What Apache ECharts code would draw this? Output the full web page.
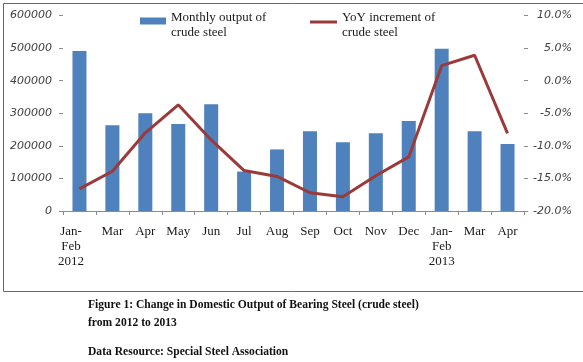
<!DOCTYPE html>
<html>
<head>
<meta charset="utf-8">
<script src="https://cdn.jsdelivr.net/npm/echarts@6/dist/echarts.min.js"></script>
<style>
html,body{margin:0;padding:0;background:#fff;}
#c{width:583px;height:362px;}
</style>
</head>
<body>
<div id="c"></div>
<script>
var categories = ['Jan-\nFeb\n2012','Mar','Apr','May','Jun','Jul','Aug','Sep','Oct','Nov','Dec','Jan-\nFeb\n2013','Mar','Apr'];
var outputValues = [491000,263000,300000,267000,328000,121000,189000,245000,211000,239000,276000,498000,245000,206000];
var yoyValues = [-16.6,-13.9,-8.0,-3.7,-9.1,-13.8,-14.7,-17.2,-17.8,-14.6,-11.7,2.3,3.9,-8.1];
var leftTicks = [0,100000,200000,300000,400000,500000,600000];
var rightTicks = ['-20.0%','-15.0%','-10.0%','-5.0%','0.0%','5.0%','10.0%'];
var barName = 'Monthly output of\ncrude steel';
var lineName = 'YoY increment of\ncrude steel';
var captionLines = ['Figure 1: Change in Domestic Output of Bearing Steel (crude steel)','from 2012 to 2013','Data Resource: Special Steel Association'];

var chart = echarts.init(document.getElementById('c'), null, {renderer:'canvas'});
var serif = '"Liberation Serif","Times New Roman",serif';
var sans = '"DejaVu Sans",Verdana,sans-serif';
var barColor = '#4F81BD';
var lineColor = '#9B3A3A';
var legendText = {fontFamily:serif,fontSize:13,color:'#1a1a1a',lineHeight:15};

function captionItem(text, y){
  return {
    type:'text', x:88, y:y, scaleX:0.89, originX:0, originY:0,
    style:{text:text,font:'bold 13px '+serif,fill:'#111',textVerticalAlign:'middle',verticalAlign:'middle'}
  };
}

chart.setOption({
  animation:false,
  backgroundColor:'#fff',
  grid:{left:63,right:59,top:15.5,bottom:151,containLabel:false},
  legend:[{
    data:[{name:barName, icon:'path://M0,0L26,0L26,7L0,7ZM26,15'}],
    left:135, top:5, itemWidth:26, itemHeight:15, itemGap:0, padding:5,
    textStyle:legendText
  },{
    data:[{name:lineName, icon:'path://M0,0L27,0L27,3L0,3ZM27,9'}],
    left:305, top:5, itemWidth:27, itemHeight:9, itemGap:0, padding:5,
    textStyle:legendText
  }],
  xAxis:{
    type:'category', data:categories, boundaryGap:true,
    axisLine:{show:true,lineStyle:{color:'#8c8c8c',width:1}},
    axisTick:{show:true,length:4,alignWithLabel:false,lineStyle:{color:'#8c8c8c'}},
    axisLabel:{
      interval:0, margin:13, fontFamily:serif, fontSize:13, color:'#1a1a1a', lineHeight:15,
      formatter:function(v,i){
        if(i===0){
          return v.split('\n').map(function(s){return '{t|'+s+'}{p| }';}).join('\n');
        }
        return v;
      },
      rich:{
        t:{fontFamily:serif,fontSize:13,color:'#1a1a1a',lineHeight:15},
        p:{fontFamily:serif,fontSize:13,width:17,lineHeight:15}
      }
    }
  },
  yAxis:[{
    type:'value', min:0, max:600000, interval:100000, position:'left',
    splitLine:{show:false},
    axisLine:{show:false},
    axisTick:{show:true,length:4,lineStyle:{color:'#8c8c8c'}},
    axisLabel:{margin:11,fontFamily:sans,fontStyle:'italic',fontSize:11,color:'#404040',
      formatter:function(v){return String(v);}}
  },{
    type:'value', min:-20, max:10, interval:5, position:'right',
    splitLine:{show:false},
    axisLine:{show:false},
    axisTick:{show:true,length:4,lineStyle:{color:'#8c8c8c'}},
    axisLabel:{margin:48,align:'right',fontFamily:sans,fontStyle:'italic',fontSize:11,color:'#404040',
      formatter:function(v){var idx=Math.round((v+20)/5);return rightTicks[idx];}}
  }],
  series:[{
    name:barName, type:'bar', yAxisIndex:0, data:outputValues, barWidth:14,
    itemStyle:{color:barColor}
  },{
    name:lineName, type:'line', yAxisIndex:1, data:yoyValues,
    symbol:'none', showSymbol:false,
    lineStyle:{color:lineColor,width:3},
    itemStyle:{color:lineColor}
  }],
  graphic:[{
    type:'rect', left:1, top:1, silent:true, z:-1,
    shape:{x:0,y:0,width:580,height:288},
    style:{fill:'none',stroke:'#666',lineWidth:1}
  },
  captionItem(captionLines[0],305),
  captionItem(captionLines[1],323),
  captionItem(captionLines[2],352)
  ]
});
</script>
</body>
</html>
